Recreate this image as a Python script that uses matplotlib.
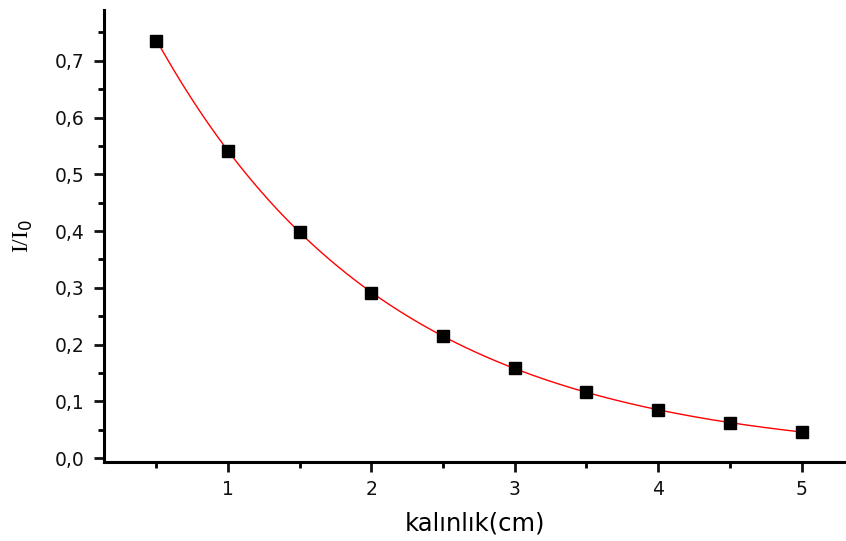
import numpy as np
import matplotlib
matplotlib.use("Agg")
import matplotlib.pyplot as plt
from matplotlib.ticker import MultipleLocator, FuncFormatter

# thickness (cm) vs transmitted fraction I/I0
kalinlik = [0.5, 1.0, 1.5, 2.0, 2.5, 3.0, 3.5, 4.0, 4.5, 5.0]
oran = [0.735, 0.541, 0.399, 0.291, 0.215, 0.159, 0.116, 0.085, 0.062, 0.046]

# exponential fit through the points (log-linear)
b, a = np.polyfit(kalinlik, np.log(oran), 1)
xf = np.linspace(min(kalinlik), max(kalinlik), 300)
yf = np.exp(a + b * xf)

plt.rcParams["font.family"] = ["DejaVu Sans"]
fig = plt.figure(figsize=(8.46, 5.41), dpi=100)
ax = fig.add_axes([0.123, 0.146, 0.877, 0.836])

ax.plot(xf, yf, color="red", lw=1.0, zorder=2)
ax.plot(kalinlik, oran, "s", color="black", ms=8.5, zorder=3)

ax.set_xlim(0.136, 5.31)
ax.set_ylim(-0.007, 0.79)
ax.xaxis.set_major_locator(MultipleLocator(1))
ax.xaxis.set_minor_locator(MultipleLocator(0.5))
ax.yaxis.set_major_locator(MultipleLocator(0.1))
ax.yaxis.set_minor_locator(MultipleLocator(0.05))
ax.yaxis.set_major_formatter(FuncFormatter(lambda v, p: f"{v:.1f}".replace(".", ",")))
ax.xaxis.set_major_formatter(FuncFormatter(lambda v, p: f"{v:g}"))

for s in ("top", "right"):
    ax.spines[s].set_visible(False)
for s in ("left", "bottom"):
    ax.spines[s].set_linewidth(2.2)
ax.tick_params(which="major", direction="out", length=7, width=2, labelsize=13.5, colors="#111111", pad=6)
ax.tick_params(which="minor", direction="out", length=4, width=2)
ax.tick_params(axis="y", pad=7)

ax.set_xlabel("kalınlık(cm)", fontsize=17.5, labelpad=9)
ax.set_ylabel(r"I/I$_0$", fontsize=17, family=["Liberation Serif", "DejaVu Serif"], labelpad=14)

fig.savefig("out.png", dpi=100)
